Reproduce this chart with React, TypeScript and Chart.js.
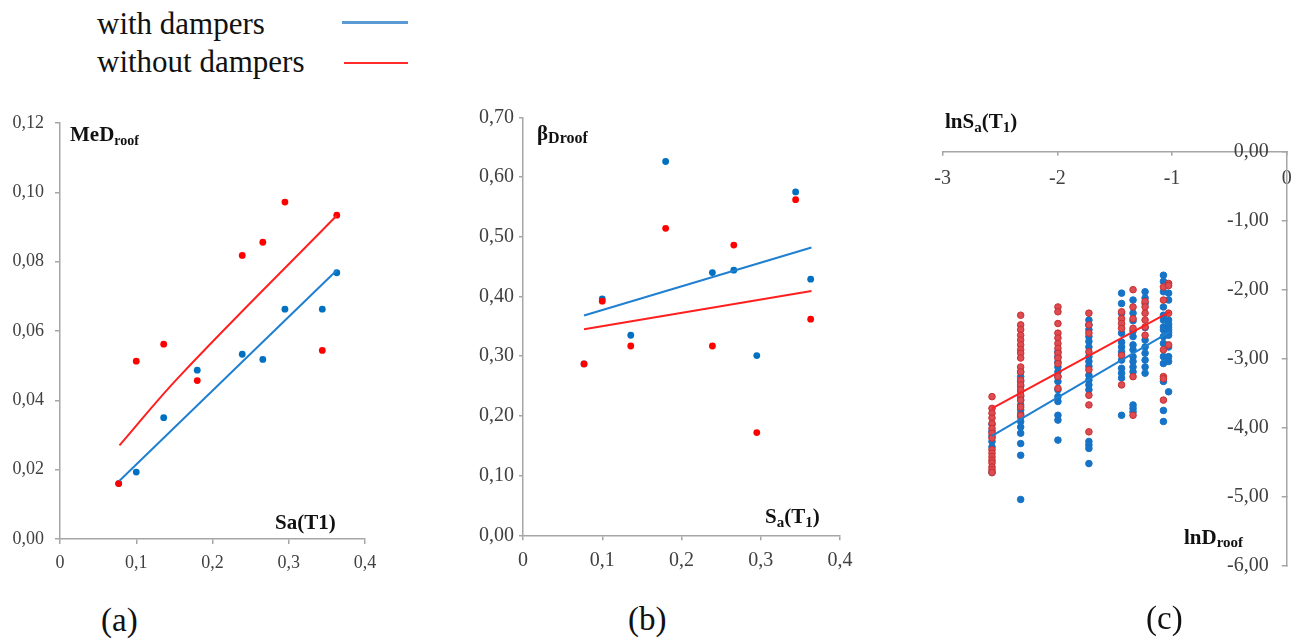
import React, { useEffect, useRef } from 'react';
import { Chart, registerables } from 'chart.js';

Chart.register(...registerables);

const SERIF = "'Liberation Serif', 'Times New Roman', serif";

// ---------- (a) and (b): Sa(T1) categories ----------
const saT1 = [0.077, 0.1, 0.136, 0.18, 0.239, 0.266, 0.295, 0.344, 0.363];
const medRoofWith = [0.016, 0.0193, 0.035, 0.0487, 0.0533, 0.0518, 0.0663, 0.0663, 0.0768];
const medRoofWithout = [0.016, 0.0513, 0.0562, 0.0457, 0.0818, 0.0856, 0.0972, 0.0544, 0.0934];
const betaWith = [0.287, 0.396, 0.335, 0.626, 0.44, 0.444, 0.301, 0.575, 0.429];
const betaWithout = [0.287, 0.392, 0.317, 0.514, 0.317, 0.486, 0.172, 0.562, 0.362];

// trend lines
const trendMedWithX = [0.078, 0.363];
const trendMedWithY = [0.0168, 0.0775];
const trendMedWithoutX = [0.078, 0.157, 0.363];
const trendMedWithoutY = [0.027, 0.047, 0.0933];
const trendBetaX = [0.077, 0.364];
const trendBetaWithY = [0.368, 0.482];
const trendBetaWithoutY = [0.345, 0.409];

// ---------- (c): ln values ----------
const lnSaCols = [-2.57, -2.32, -1.995, -1.725, -1.44, -1.34, -1.235, -1.075, -1.03];
const lnDWithCols = [
  [-3.95, -4.05, -4.12, -4.2, -4.28, -4.65],
  [-3.19, -3.26, -3.33, -3.4, -3.47, -3.55, -3.6, -3.67, -3.74, -3.8, -3.84, -3.91, -3.99, -4.08, -4.23, -4.4, -5.04],
  [-2.9, -2.97, -3.05, -3.12, -3.19, -3.26, -3.33, -3.45, -3.55, -3.62, -3.82, -3.89, -4.18],
  [-2.44, -2.51, -2.58, -2.68, -2.75, -2.83, -2.97, -3.04, -3.11, -3.24, -3.31, -3.38, -3.45, -4.2, -4.25, -4.3, -4.52],
  [-2.05, -2.2, -2.34, -2.63, -2.76, -2.83, -2.9, -3.02, -3.14, -3.21, -3.28, -3.82],
  [-2.15, -2.34, -2.45, -2.6, -2.68, -2.8, -2.87, -2.97, -3.04, -3.12, -3.19, -3.67, -3.72, -3.77],
  [-2.03, -2.12, -2.2, -2.55, -2.73, -2.83, -2.92, -3.02, -3.12, -3.21],
  [-1.79, -1.88, -2.03, -2.25, -2.37, -2.44, -2.54, -2.58, -2.68, -2.78, -2.97, -3.07, -3.33, -3.75, -3.91],
  [-2.05, -2.15, -2.44, -2.5, -2.54, -2.58, -2.62, -2.66, -2.83, -2.97, -3.04, -3.48],
];
const lnDWithoutCols = [
  [-3.55, -3.72, -3.79, -3.86, -3.94, -4.01, -4.08, -4.15, -4.32, -4.37, -4.42, -4.47, -4.51, -4.57, -4.61, -4.65],
  [-2.37, -2.51, -2.58, -2.66, -2.73, -2.8, -2.87, -2.92, -2.99, -3.12, -3.19, -3.31, -3.38, -3.45, -3.53, -3.6, -3.7, -3.82],
  [-2.25, -2.32, -2.49, -2.63, -2.7, -2.78, -2.85, -2.92, -2.99, -3.07, -3.26, -3.43],
  [-2.34, -2.51, -2.63, -2.9, -3.16, -3.53, -3.67, -4.06],
  [-2.32, -2.42, -2.49, -2.56, -2.95, -3.38],
  [-2.0, -2.25, -2.42, -2.56, -3.26, -3.82],
  [-2.17, -2.25, -2.34, -2.44, -2.54, -2.66],
  [-1.96, -2.15, -2.87, -3.26, -3.29, -3.6],
  [-1.91, -1.94, -2.34, -2.8],
];
const trendLnX = [-2.57, -1.02];
const trendLnWithY = [-4.12, -2.61];
const trendLnWithoutY = [-3.72, -2.32];

// tick ranges
const xTicksA = { min: 0, max: 0.4, step: 0.1 };
const yTicksA = { min: 0, max: 0.12, step: 0.02 };
const yTicksB = { min: 0, max: 0.7, step: 0.1 };
const xTicksC = { min: -3, max: 0, step: 1 };
const yTicksC = { min: -6, max: 0, step: 1 };

// ---------- styles ----------
const AXIS = '#a6a6a6';
const TICK = '#404040';
const RED = '#ff0000';
const BLUE = '#0070c0';
const RED_LINE = '#ff1f1f';
const BLUE_LINE = '#1f7fd0';

const fmtX1 = (v: any) => (Number(v) === 0 ? '0' : Number(v).toFixed(1).replace('.', ','));
const fmt2 = (v: any) => Number(v).toFixed(2).replace('.', ',');
const fmtInt = (v: any) => String(Math.round(Number(v)));

function linScale(o: any) {
  return {
    type: 'linear',
    position: o.position,
    min: o.min,
    max: o.max,
    ticks: {
      stepSize: o.step,
      callback: o.fmt,
      font: { family: SERIF, size: o.size },
      color: TICK,
      padding: o.pad,
      mirror: !!o.mirror,
      maxRotation: 0,
      minRotation: 0,
      autoSkip: false,
    },
    grid: {
      display: true,
      drawOnChartArea: false,
      drawTicks: true,
      tickLength: o.tickLen,
      color: AXIS,
      lineWidth: 1.5,
    },
    border: { display: true, color: AXIS, width: 1.5 },
    afterFit: o.fit,
  };
}

const pts = (xs: number[], ys: number[]) => xs.map((x, i) => ({ x, y: ys[i] }));

function dots(data: any[], color: string, order: number, border?: string, bw = 0, r = 3.4) {
  return {
    data,
    showLine: false,
    pointRadius: r,
    pointHoverRadius: r,
    backgroundColor: color,
    borderColor: border || color,
    pointBorderWidth: bw,
    borderWidth: bw,
    order,
  };
}

function trend(data: any[], color: string, tension = 0) {
  return {
    data,
    showLine: true,
    pointRadius: 0,
    borderColor: color,
    borderWidth: 2,
    tension,
    fill: false,
    order: 0,
  };
}

const baseOpts = {
  responsive: false,
  animation: false,
  devicePixelRatio: 1,
  plugins: { legend: { display: false }, tooltip: { enabled: false } },
  events: [],
};

function buildA() {
  return {
    type: 'scatter',
    data: {
      datasets: [
        trend(pts(trendMedWithoutX, trendMedWithoutY), RED_LINE, 0.4),
        trend(pts(trendMedWithX, trendMedWithY), BLUE_LINE),
        dots(pts(saT1, medRoofWithout), RED, 1),
        dots(pts(saT1, medRoofWith), BLUE, 2),
      ],
    },
    options: {
      ...baseOpts,
      layout: { padding: { left: 0, right: 35, top: 23, bottom: 0 } },
      scales: {
        x: linScale({ ...xTicksA, position: 'bottom', fmt: fmtX1, size: 18, pad: 8, tickLen: 5, fit: (s: any) => { s.height = 41; } }),
        y: linScale({ ...yTicksA, position: 'left', fmt: fmt2, size: 18, pad: 11, tickLen: 5, fit: (s: any) => { s.width = 60; } }),
      },
    },
  };
}

function buildB() {
  return {
    type: 'scatter',
    data: {
      datasets: [
        trend(pts(trendBetaX, trendBetaWithoutY), RED_LINE),
        trend(pts(trendBetaX, trendBetaWithY), BLUE_LINE),
        dots(pts(saT1, betaWithout), RED, 1),
        dots(pts(saT1, betaWith), BLUE, 2),
      ],
    },
    options: {
      ...baseOpts,
      layout: { padding: { left: 0, right: 30, top: 17.3, bottom: 0 } },
      scales: {
        x: linScale({ ...xTicksA, position: 'bottom', fmt: fmtX1, size: 20, pad: 8, tickLen: 5, fit: (s: any) => { s.height = 44.7; } }),
        y: linScale({ ...yTicksB, position: 'left', fmt: fmt2, size: 20, pad: 5, tickLen: 4, fit: (s: any) => { s.width = 73; } }),
      },
    },
  };
}

function buildC() {
  const withPts = lnSaCols.flatMap((x, i) => lnDWithCols[i].map((y) => ({ x, y })));
  const withoutPts = lnSaCols.flatMap((x, i) => lnDWithoutCols[i].map((y) => ({ x, y })));
  return {
    type: 'scatter',
    data: {
      datasets: [
        trend(pts(trendLnX, trendLnWithoutY), RED_LINE),
        trend(pts(trendLnX, trendLnWithY), BLUE_LINE),
        dots(withoutPts, 'rgba(220,76,82,1)', 1, '#c8302f', 1, 3.3),
        dots(withPts, '#1673c6', 2, '#1673c6', 1, 3.3),
      ],
    },
    options: {
      ...baseOpts,
      layout: { padding: { left: 42.7, right: 0, top: 40, bottom: 14.3 } },
      scales: {
        x: linScale({ ...xTicksC, position: 'top', mirror: true, fmt: fmtInt, size: 20, pad: 15, tickLen: -4, fit: (s: any) => { s.height = 11.7; } }),
        y: linScale({ ...yTicksC, position: 'right', mirror: true, fmt: fmt2, size: 20, pad: -18, tickLen: -5, fit: (s: any) => { s.width = 43.3; } }),
      },
    },
  };
}

function ChartBox({ left, top, width, height, build }: any) {
  const ref = useRef<HTMLCanvasElement | null>(null);
  useEffect(() => {
    const chart = new Chart(ref.current as HTMLCanvasElement, build() as any);
    return () => chart.destroy();
  }, []);
  return (
    <canvas
      ref={ref}
      width={width}
      height={height}
      style={{ position: 'absolute', left, top, width, height }}
    />
  );
}

function Txt({ x, base, size, bold, children }: any) {
  return (
    <div
      style={{
        position: 'absolute',
        left: x,
        top: base - 0.8375 * size,
        fontSize: size,
        lineHeight: 1,
        fontFamily: SERIF,
        fontWeight: bold ? 'bold' : 'normal',
        whiteSpace: 'nowrap',
        color: '#111',
      }}
    >
      {children}
    </div>
  );
}

const Sub = ({ size, dy, children }: any) => (
  <span style={{ fontSize: size, position: 'relative', top: dy }}>{children}</span>
);

export default function App() {
  return (
    <div style={{ position: 'absolute', left: 0, top: 0, width: 1296, height: 642, background: '#fff', overflow: 'hidden' }}>
      {/* legend */}
      <Txt x={97} base={33.5} size={31}>with dampers</Txt>
      <Txt x={97} base={71.7} size={31}>without dampers</Txt>
      <div style={{ position: 'absolute', left: 342, top: 21, width: 66, height: 3, background: '#5b9bd5' }} />
      <div style={{ position: 'absolute', left: 344, top: 61.5, width: 64, height: 2.5, background: '#ff2a2a' }} />

      <ChartBox left={0} top={100} width={400} height={480} build={buildA} />
      <ChartBox left={450} top={100} width={420} height={480} build={buildB} />
      <ChartBox left={900} top={100} width={430} height={480} build={buildC} />

      {/* (a) titles */}
      <Txt x={70} base={141.7} size={21} bold>
        MeD<Sub size={14} dy={4}>roof</Sub>
      </Txt>
      <Txt x={275} base={530} size={21} bold>Sa(T1)</Txt>

      {/* (b) titles */}
      <Txt x={537} base={141} size={21} bold>
        β<Sub size={16} dy={3}>Droof</Sub>
      </Txt>
      <Txt x={765} base={523.3} size={21} bold>
        S<Sub size={15} dy={4}>a</Sub>(T<Sub size={15} dy={4}>1</Sub>)
      </Txt>

      {/* (c) titles */}
      <Txt x={945} base={128.3} size={21} bold>
        lnS<Sub size={15} dy={4}>a</Sub>(T<Sub size={15} dy={4}>1</Sub>)
      </Txt>
      <Txt x={1184} base={545} size={21} bold>
        lnD<Sub size={15} dy={3}>roof</Sub>
      </Txt>

      {/* captions */}
      <Txt x={101} base={632} size={33}>(a)</Txt>
      <Txt x={628} base={631} size={33}>(b)</Txt>
      <Txt x={1146} base={629.5} size={33}>(c)</Txt>
    </div>
  );
}
